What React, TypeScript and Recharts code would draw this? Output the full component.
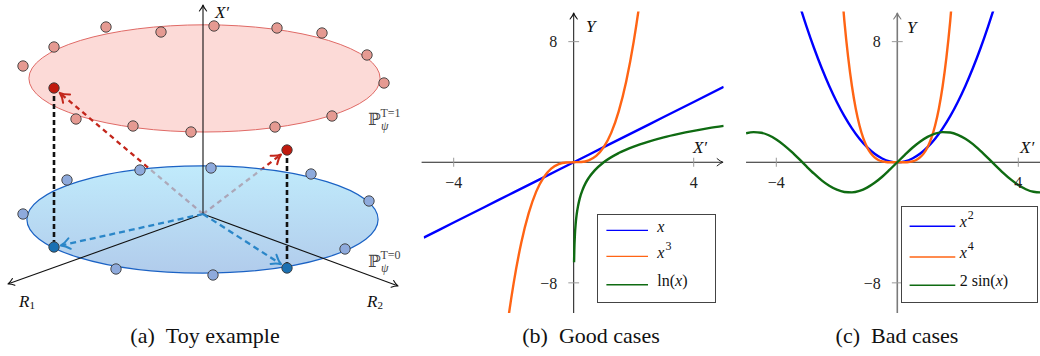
import React from 'react';
import {
  ScatterChart,
  Scatter,
  LineChart,
  Line,
  XAxis,
  YAxis,
  ReferenceLine,
  ReferenceDot,
  Legend,
} from 'recharts';

// ---------- (a) toy example, plot units (20 px per unit), origin where the axes meet ----------
const upperRing = [
  { x: -9.0, y: 7.4 }, { x: -7.45, y: 8.35 }, { x: -4.85, y: 9.35 }, { x: -2.1, y: 9.1 },
  { x: 0.55, y: 9.4 }, { x: 3.7, y: 9.3 }, { x: 5.95, y: 9.05 }, { x: 8.2, y: 7.95 },
  { x: 9.05, y: 6.55 }, { x: 6.45, y: 4.9 }, { x: 3.6, y: 4.35 }, { x: -0.6, y: 4.1 },
  { x: -3.5, y: 4.4 }, { x: -6.35, y: 4.75 },
];
const lowerRing = [
  { x: -9.0, y: 0 }, { x: -6.8, y: 1.7 }, { x: -3.15, y: 2.2 }, { x: 0.4, y: 2.3 },
  { x: 5.4, y: 2.0 }, { x: 8.3, y: 0.65 }, { x: 7.1, y: -1.75 }, { x: 0.5, y: -3.05 },
  { x: -4.35, y: -2.75 },
];
const treatedPts = [{ x: -7.45, y: 6.3 }, { x: 4.2, y: 3.2 }];
const controlPts = [{ x: -7.45, y: -1.65 }, { x: 4.2, y: -2.7 }];
const upperDisk = { x: 0.075, y: 6.78, rx: 8.78, ry: 2.68 };
const lowerDisk = { x: -0.025, y: -0.275, rx: 8.78, ry: 2.68 };
const ORIGIN = { x: 0, y: 0 };
const axisTips = [{ x: 0, y: 10.45 }, { x: -9.75, y: -3.5 }, { x: 9.75, y: -3.6 }];

// ---------- (b) good cases ----------
const identX = [-5, -4, -3, -2, -1, 0, 1, 2, 3, 4, 5];
const identY = [-5, -4, -3, -2, -1, 0, 1, 2, 3, 4, 5];
const cubeX = [-2.5, -2.25, -2, -1.75, -1.5, -1.25, -1, -0.75, -0.5, -0.25, 0, 0.25, 0.5, 0.75, 1, 1.25, 1.5, 1.75, 2, 2.25, 2.5];
const cubeY = [-15.63, -11.39, -8, -5.36, -3.38, -1.95, -1, -0.42, -0.13, -0.02, 0, 0.02, 0.13, 0.42, 1, 1.95, 3.38, 5.36, 8, 11.39, 15.63];
const logX = [0.012, 0.02, 0.04, 0.07, 0.1, 0.15, 0.2, 0.3, 0.4, 0.5, 0.7, 1, 1.5, 2, 2.5, 3, 3.5, 4, 4.5, 5];
const logY = [-6.63, -5.87, -4.83, -3.99, -3.45, -2.85, -2.41, -1.81, -1.37, -1.04, -0.54, 0, 0.61, 1.04, 1.37, 1.65, 1.88, 2.08, 2.26, 2.41];

// ---------- (c) bad cases ----------
const squareX = [-3.5, -3.25, -3, -2.75, -2.5, -2.25, -2, -1.75, -1.5, -1.25, -1, -0.75, -0.5, -0.25, 0, 0.25, 0.5, 0.75, 1, 1.25, 1.5, 1.75, 2, 2.25, 2.5, 2.75, 3, 3.25, 3.5];
const squareY = [12.25, 10.56, 9, 7.56, 6.25, 5.06, 4, 3.06, 2.25, 1.56, 1, 0.56, 0.25, 0.06, 0, 0.06, 0.25, 0.56, 1, 1.56, 2.25, 3.06, 4, 5.06, 6.25, 7.56, 9, 10.56, 12.25];
const quartX = [-2, -1.875, -1.75, -1.625, -1.5, -1.375, -1.25, -1.125, -1, -0.875, -0.75, -0.625, -0.5, -0.375, -0.25, -0.125, 0, 0.125, 0.25, 0.375, 0.5, 0.625, 0.75, 0.875, 1, 1.125, 1.25, 1.375, 1.5, 1.625, 1.75, 1.875, 2];
const quartY = [16, 12.36, 9.38, 6.97, 5.06, 3.57, 2.44, 1.6, 1, 0.59, 0.32, 0.15, 0.06, 0.02, 0.004, 0, 0, 0, 0.004, 0.02, 0.06, 0.15, 0.32, 0.59, 1, 1.6, 2.44, 3.57, 5.06, 6.97, 9.38, 12.36, 16];
const sineX = [-5, -4.75, -4.5, -4.25, -4, -3.75, -3.5, -3.25, -3, -2.75, -2.5, -2.25, -2, -1.75, -1.5, -1.25, -1, -0.75, -0.5, -0.25, 0, 0.25, 0.5, 0.75, 1, 1.25, 1.5, 1.75, 2, 2.25, 2.5, 2.75, 3, 3.25, 3.5, 3.75, 4, 4.25, 4.5, 4.75, 5];
const sineY = [1.92, 2, 1.96, 1.79, 1.51, 1.14, 0.7, 0.22, -0.28, -0.76, -1.2, -1.56, -1.82, -1.97, -2, -1.9, -1.68, -1.36, -0.96, -0.49, 0, 0.49, 0.96, 1.36, 1.68, 1.9, 2, 1.97, 1.82, 1.56, 1.2, 0.76, 0.28, -0.22, -0.7, -1.14, -1.51, -1.79, -1.96, -2, -1.92];

const xTicks = [-4, 4];
const yTicks = [-8, 8];

const BLUE = '#0000ff';
const ORANGE = '#ff6414';
const GREEN = '#0f6b12';
const SERIF = '"Liberation Serif", "DejaVu Serif", serif';
const PX = 20; // pixels per unit in panel (a)

const zip = (xs: number[], ys: number[]) => xs.map((x, i) => ({ x, y: ys[i] }));
const fmt = (v: number) => (v < 0 ? `\u2212${Math.abs(v)}` : `${v}`);

// line with optional open arrow head
const arrowShape =
  (stroke: string, width: number, dash: string | undefined, head: number, shorten = 0, headWidth = width) =>
  (props: any) => {
    const { x1, y1, x2, y2 } = props;
    const dx = x2 - x1;
    const dy = y2 - y1;
    const len = Math.hypot(dx, dy) || 1;
    const ux = dx / len;
    const uy = dy / len;
    const tx = x2 - ux * shorten;
    const ty = y2 - uy * shorten;
    const bx = tx - ux * head;
    const by = ty - uy * head;
    const w = head * 0.6;
    return (
      <g>
        <line x1={x1} y1={y1} x2={tx - ux * 0.5} y2={ty - uy * 0.5} stroke={stroke} strokeWidth={width} strokeDasharray={dash} />
        {head > 0 && (
          <path
            d={`M ${bx - uy * w} ${by + ux * w} Q ${tx - ux * head * 0.45 - uy * w * 0.2} ${ty - uy * head * 0.45 + ux * w * 0.2} ${tx} ${ty} Q ${tx - ux * head * 0.45 + uy * w * 0.2} ${ty - uy * head * 0.45 - ux * w * 0.2} ${bx + uy * w} ${by - ux * w}`}
            fill="none"
            stroke={stroke}
            strokeWidth={headWidth}
            strokeLinecap="round"
            strokeLinejoin="round"
          />
        )}
      </g>
    );
  };

const dotShape = (fill: string) => (p: any) => (
  <circle cx={p.cx} cy={p.cy} r={5.2} fill={fill} stroke="#3a3a3a" strokeWidth={0.9} />
);

const mathText = (content: React.ReactNode, size = 17) => (p: any) => (
  <text x={p.cx} y={p.cy} textAnchor="middle" dominantBaseline="central" fontFamily={SERIF} fontStyle="italic" fontSize={size} fill="#111">
    {content}
  </text>
);

const distLabel = (sup: string) => (p: any) => (
  <g fill="#444">
    <text x={p.cx} y={p.cy} fontFamily='"DejaVu Serif", serif' fontSize={17}>ℙ</text>
    <text x={p.cx + 13} y={p.cy + 5} fontFamily={SERIF} fontStyle="italic" fontSize={12}>ψ</text>
    <text x={p.cx + 12.5} y={p.cy - 8} fontFamily={SERIF} fontSize={12}>{sup}</text>
  </g>
);

const ToyPanel = () => (
  <div style={{ position: 'absolute', left: 0, top: 0 }}>
    <ScatterChart width={415} height={320} margin={{ top: 0, right: 0, bottom: 0, left: 0 }}>
      <XAxis type="number" dataKey="x" domain={[-10.15, 10.6]} allowDataOverflow hide />
      <YAxis type="number" dataKey="y" domain={[-5.3, 10.7]} allowDataOverflow hide />
      <ReferenceDot
        x={upperDisk.x}
        y={upperDisk.y}
        ifOverflow="visible"
        zIndex={100}
        shape={(p: any) => (
          <ellipse cx={p.cx} cy={p.cy} rx={upperDisk.rx * PX} ry={upperDisk.ry * PX} fill="#fcdad7" stroke="#e06a66" strokeWidth={1} />
        )}
      />
      {treatedPts.map((p, i) => (
        <ReferenceLine key={`r${i}`} zIndex={150} segment={[ORIGIN, p]} ifOverflow="visible" shape={arrowShape('#c3261b', 2.3, '5 4', 9, 7.5, 2)} />
      ))}
      <ReferenceDot
        x={lowerDisk.x}
        y={lowerDisk.y}
        ifOverflow="visible"
        zIndex={200}
        shape={(p: any) => (
          <g>
            <defs>
              <linearGradient id="lowerFill" x1="0" y1="0" x2="0" y2="1">
                <stop offset="0%" stopColor="#a8e3fa" />
                <stop offset="100%" stopColor="#93b8e4" />
              </linearGradient>
            </defs>
            <ellipse cx={p.cx} cy={p.cy} rx={lowerDisk.rx * PX} ry={lowerDisk.ry * PX} fill="url(#lowerFill)" fillOpacity={0.72} stroke="#1b62c4" strokeWidth={1.2} />
          </g>
        )}
      />
      {axisTips.map((p, i) => (
        <ReferenceLine key={`a${i}`} zIndex={250} segment={[ORIGIN, p]} ifOverflow="visible" shape={arrowShape('#111', 1.1, undefined, 6, 0, 1.1)} />
      ))}
      {treatedPts.map((p, i) => (
        <ReferenceLine key={`d${i}`} zIndex={300} segment={[p, controlPts[i]]} ifOverflow="visible" shape={arrowShape('#111', 2.6, '5 3', 0)} />
      ))}
      {controlPts.map((p, i) => (
        <ReferenceLine key={`b${i}`} zIndex={350} segment={[ORIGIN, p]} ifOverflow="visible" shape={arrowShape('#2a86c8', 2.3, '6 4', 9, 7, 2)} />
      ))}
      <Scatter data={upperRing} zIndex={600} shape={dotShape('#e59a92')} isAnimationActive={false} />
      <Scatter data={treatedPts} zIndex={600} shape={dotShape('#c01a0e')} isAnimationActive={false} />
      <Scatter data={lowerRing} zIndex={600} shape={dotShape('#8eaadc')} isAnimationActive={false} />
      <Scatter data={controlPts} zIndex={600} shape={dotShape('#1a70b2')} isAnimationActive={false} />
      <ReferenceDot x={0.95} y={10.08} zIndex={700} ifOverflow="visible" shape={mathText(<>X′</>)} />
      <ReferenceDot x={-8.8} y={-4.35} zIndex={700} ifOverflow="visible" shape={mathText(<>R<tspan fontStyle="normal" fontSize={11} dy={4}>1</tspan></>)} />
      <ReferenceDot x={8.6} y={-4.35} zIndex={700} ifOverflow="visible" shape={mathText(<>R<tspan fontStyle="normal" fontSize={11} dy={4}>2</tspan></>)} />
      <ReferenceDot x={8.25} y={4.45} zIndex={700} ifOverflow="visible" shape={distLabel('T=1')} />
      <ReferenceDot x={8.25} y={-2.65} zIndex={700} ifOverflow="visible" shape={distLabel('T=0')} />
    </ScatterChart>
  </div>
);

type LegendBox = { left: number; top: number; width: number; height: number; rows: number[]; swatch: [number, number]; textX: number };
type Series = { name: string; color: string; data: { x: number; y: number }[] };

const legendContent = (series: Series[], labels: React.ReactNode[], box: LegendBox) => () => (
  <div style={{ position: 'relative', width: box.width, height: box.height, border: '1px solid #444', background: '#fff', boxSizing: 'border-box' }}>
    <svg width={box.width} height={box.height} style={{ position: 'absolute', left: -1, top: -1 }}>
      {series.map((s, i) => (
        <line key={s.name} x1={box.swatch[0]} x2={box.swatch[1]} y1={box.rows[i]} y2={box.rows[i]} stroke={s.color} strokeWidth={1.4} />
      ))}
    </svg>
    {series.map((s, i) => (
      <span
        key={s.name}
        style={{ position: 'absolute', left: box.textX - 1, top: box.rows[i] - 14, whiteSpace: 'nowrap', fontFamily: SERIF, fontSize: 16, lineHeight: '18px', color: '#111' }}
      >
        {labels[i]}
      </span>
    ))}
  </div>
);

const sup = (s: string) => <span style={{ fontSize: 12, position: 'relative', top: -8, marginLeft: 1 }}>{s}</span>;
const xi = <i>x</i>;

const FunctionPanel = ({
  left,
  margin,
  series,
  labels,
  legend,
  xSpan,
  vAxisColor,
  vAxisWidth,
  xName,
  yName,
}: {
  left: number;
  margin: { top: number; right: number; bottom: number; left: number };
  series: Series[];
  labels: React.ReactNode[];
  legend: LegendBox;
  xSpan: [number, number];
  vAxisColor: string;
  vAxisWidth: number;
  xName: { x: number; y: number };
  yName: { x: number; y: number };
}) => (
  <div style={{ position: 'absolute', left, top: 0 }}>
    <LineChart width={320} height={320} margin={margin}>
      <XAxis type="number" dataKey="x" domain={[-5, 5]} allowDataOverflow hide />
      <YAxis type="number" dataKey="y" domain={[-10, 10]} allowDataOverflow hide />
      <ReferenceLine zIndex={100} segment={[{ x: xSpan[0], y: 0 }, { x: xSpan[1], y: 0 }]} ifOverflow="visible" shape={arrowShape('#222', 1, undefined, 6, 0, 1)} />
      <ReferenceLine zIndex={100} segment={[{ x: 0, y: -10 }, { x: 0, y: 9.9 }]} ifOverflow="visible" shape={arrowShape(vAxisColor, vAxisWidth, undefined, 6, 0, 1.1)} />
      {xTicks.map((t) => (
        <ReferenceLine
          key={`xt${t}`}
          zIndex={100}
          segment={[{ x: t, y: -0.3 }, { x: t, y: 0.3 }]}
          ifOverflow="visible"
          stroke="#999"
          strokeWidth={1}
          label={{ value: fmt(t), position: 'bottom', offset: 10, fill: '#222', fontSize: 16, fontFamily: SERIF }}
        />
      ))}
      {yTicks.map((t) => (
        <ReferenceLine
          key={`yt${t}`}
          zIndex={100}
          segment={[{ x: -0.18, y: t }, { x: 0.18, y: t }]}
          ifOverflow="visible"
          stroke="#999"
          strokeWidth={1}
          label={{ value: fmt(t), position: 'left', offset: 11, fill: '#222', fontSize: 16, fontFamily: SERIF }}
        />
      ))}
      {series.map((s) => (
        <Line
          key={s.name}
          data={s.data}
          dataKey="y"
          name={s.name}
          type="monotone"
          stroke={s.color}
          strokeWidth={2.4}
          dot={false}
          activeDot={false}
          isAnimationActive={false}
        />
      ))}
      <ReferenceDot x={xName.x} y={xName.y} ifOverflow="visible" shape={mathText(<>X′</>)} />
      <ReferenceDot x={yName.x} y={yName.y} ifOverflow="visible" shape={mathText(<>Y</>)} />
      <Legend
        layout="vertical"
        align="center"
        verticalAlign="middle"
        wrapperStyle={{ left: legend.left, top: legend.top, width: legend.width, height: legend.height }}
        content={legendContent(series, labels, legend)}
      />
    </LineChart>
  </div>
);

const goodSeries: Series[] = [
  { name: 'x', color: BLUE, data: zip(identX, identY) },
  { name: 'x^3', color: ORANGE, data: zip(cubeX, cubeY) },
  { name: 'ln(x)', color: GREEN, data: zip(logX, logY) },
];
const badSeries: Series[] = [
  { name: 'x^2', color: BLUE, data: zip(squareX, squareY) },
  { name: 'x^4', color: ORANGE, data: zip(quartX, quartY) },
  { name: '2sin(x)', color: GREEN, data: zip(sineX, sineY) },
];

const captionStyle: React.CSSProperties = {
  position: 'absolute',
  top: 324,
  transform: 'translateX(-50%)',
  fontFamily: SERIF,
  fontSize: 22,
  lineHeight: '24px',
  color: '#111',
  whiteSpace: 'nowrap',
};

const Caption = ({ center, tag, text }: { center: number; tag: string; text: string }) => (
  <div style={{ ...captionStyle, left: center }}>
    <span style={{ marginRight: 11 }}>{tag}</span>
    {text}
  </div>
);

export default function App() {
  return (
    <div style={{ position: 'relative', width: 1040, height: 356, overflow: 'hidden', background: '#fff' }}>
      <style>{'body{margin:0}'}</style>
      <ToyPanel />
      <FunctionPanel
        left={415}
        margin={{ top: 11.5, right: 11.3, bottom: 7, left: 8.7 }}
        series={goodSeries}
        labels={[xi, <>{xi}{sup('3')}</>, <>ln({xi})</>]}
        legend={{ left: 182.3, top: 214.3, width: 118.4, height: 89, rows: [16.4, 42.4, 70.7], swatch: [9.4, 51], textX: 60 }}
        xSpan={[-5.07, 4.98]}
        vAxisColor="#111"
        vAxisWidth={1}
        xName={{ x: 4.21, y: 0.95 }}
        yName={{ x: 0.57, y: 8.99 }}
      />
      <FunctionPanel
        left={735}
        margin={{ top: 11.5, right: 6.45, bottom: 7, left: 11.05 }}
        series={badSeries}
        labels={[<>{xi}{sup('2')}</>, <>{xi}{sup('4')}</>, <>2 sin({xi})</>]}
        legend={{ left: 165.7, top: 205.7, width: 137.6, height: 97.6, rows: [20.3, 51, 79.3], swatch: [8.6, 54.3], textX: 59 }}
        xSpan={[-5, 5]}
        vAxisColor="#7a7a7a"
        vAxisWidth={1.6}
        xName={{ x: 4.29, y: 0.98 }}
        yName={{ x: 0.48, y: 8.94 }}
      />
      <Caption center={205} tag="(a)" text="Toy example" />
      <Caption center={591} tag="(b)" text="Good cases" />
      <Caption center={897} tag="(c)" text="Bad cases" />
    </div>
  );
}
